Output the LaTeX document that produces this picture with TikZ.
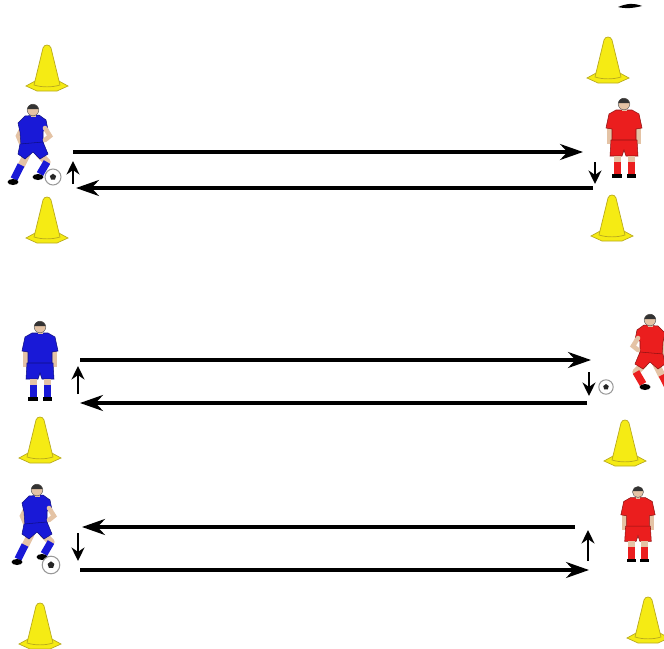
\documentclass[tikz,border=0pt]{standalone}
\usetikzlibrary{arrows.meta}

\definecolor{kitblue}{RGB}{25,25,215}
\definecolor{kitred}{RGB}{235,30,30}
\definecolor{skin}{RGB}{228,195,165}
\definecolor{coneyellow}{RGB}{245,235,20}
\definecolor{coneedge}{RGB}{185,170,30}

\begin{document}
\begin{tikzpicture}[
  x=0.02cm, y=-0.02cm,
  pass/.style={line width=1.8pt, -{Stealth[length=4.6mm, width=3.2mm]}},
  nudge/.style={line width=1.6pt, -{Stealth[length=2.7mm, width=2.6mm]}},
  pics/cone/.style={code={
    \filldraw[fill=coneyellow, draw=coneedge, line width=0.4pt]
      (-21,41) -- (-10,35) -- (10,35) -- (21,41) -- (10,46) -- (-10,46) -- cycle;
    \filldraw[fill=coneyellow, draw=coneedge, line width=0.4pt]
      (-13,40) -- (-4,3) .. controls (-3,-1) and (3,-1) .. (4,3) -- (13,40)
      .. controls (5,42.5) and (-5,42.5) .. (-13,40) -- cycle;
  }},
  pics/ball/.style={code={
    \filldraw[fill=white, draw=gray!80, line width=0.6pt] (0,0) circle (8);
    \fill[black!85] (0,-3.3) -- (3.1,-1) -- (1.9,2.7) -- (-1.9,2.7) -- (-3.1,-1) -- cycle;
  }},
  pics/stander/.style={code={
    % arms
    \fill[skin] (-17,22) rectangle (-12,40);
    \fill[skin] (12,22) rectangle (17,40);
    % shirt and shorts
    \filldraw[fill=#1, draw=#1!60!black, line width=0.3pt]
      (-8,6) -- (8,6) -- (15,10) -- (18,24) -- (12,25) -- (12,38)
      -- (-12,38) -- (-12,25) -- (-18,24) -- (-15,10) -- cycle;
    \filldraw[fill=#1, draw=#1!60!black, line width=0.3pt]
      (-13,36) -- (13,36) -- (14,52) -- (2,52) -- (0,46) -- (-2,52) -- (-14,52) -- cycle;
    % legs, socks, boots
    \foreach \s in {-1,1} {
      \fill[skin] (\s*3.5,52) rectangle (\s*10.5,58);
      \fill[#1] (\s*3.5,58) rectangle (\s*10.5,70);
      \fill[black] (\s*2.5,70) rectangle (\s*12,74);
    }
    % head
    \fill[skin] (-2.5,2) rectangle (2.5,7);
    \filldraw[fill=skin, draw=black!60, line width=0.3pt] (0,0) circle (5.8);
    \fill[black!80] (-5.8,-0.8) arc (188:352:5.8) -- cycle;
  }},
  pics/kicker/.style={code={
    % back arm and back leg
    \draw[skin, line width=2.6pt, line cap=round] (-10,16) -- (-15,26) -- (-12,33);
    \draw[skin, line width=4.2pt, line cap=round] (-6,44) -- (-12,56);
    \draw[#1, line width=4.2pt] (-12,55) -- (-19,69);
    \fill[black] (-20,72) ellipse (5.5 and 3);
    % front leg
    \draw[skin, line width=4.2pt, line cap=round] (6,44) -- (14,52);
    \draw[#1, line width=4.2pt] (14,52) -- (7,64);
    \fill[black] (5,67) ellipse (5.5 and 3);
    % shirt and shorts
    \filldraw[fill=#1, draw=#1!60!black, line width=0.3pt]
      (-8,6) -- (6,5) -- (13,10) -- (15,20) -- (10,21) -- (10,34)
      -- (-12,36) -- (-13,22) -- (-15,13) -- cycle;
    \filldraw[fill=#1, draw=#1!60!black, line width=0.3pt]
      (-13,34) -- (10,32) -- (15,44) -- (7,49) -- (0,42) -- (-8,49) -- (-15,44) -- cycle;
    % front arm
    \draw[skin, line width=2.6pt, line cap=round] (12,18) -- (17,26) -- (12,30);
    % head
    \fill[skin] (-2.5,2) rectangle (2.5,7);
    \filldraw[fill=skin, draw=black!60, line width=0.3pt] (0,0) circle (5.8);
    \fill[black!80] (-5.8,-0.8) arc (188:352:5.8) -- cycle;
  }},
]
\useasboundingbox (0,0) rectangle (664,649);

% cones, apex positions
\foreach \cx/\cy in {47/45, 608/37, 47/197, 612/195, 40/417, 625/420, 40/603, 648/597}
  \pic at (\cx,\cy) {cone};

% players
\pic at (33,110) {kicker=kitblue};
\pic at (624,104) {stander=kitred};
\pic at (40,327) {stander=kitblue};
\pic[xscale=-1] at (650,320) {kicker=kitred};
\pic at (37,490) {kicker=kitblue};
\pic[scale=0.95] at (638,492) {stander=kitred};

% balls
\pic at (53,177) {ball};
\pic[scale=0.9] at (606,387) {ball};
\pic[scale=1.1] at (51,565) {ball};

% passes
\draw[pass] (73,152) -- (583,152);
\draw[pass] (593,188) -- (76,188);
\draw[pass] (80,360) -- (591,360);
\draw[pass] (587,403) -- (80,403);
\draw[pass] (575,527) -- (82,527);
\draw[pass] (80,570) -- (589,570);

% steps after the pass
\draw[nudge] (73,184) -- (73,161);
\draw[nudge] (595,162) -- (595,184);
\draw[nudge] (78,394) -- (78,366);
\draw[nudge] (589,372) -- (589,396);
\draw[nudge] (78,533) -- (78,561);
\draw[nudge] (588,561) -- (588,530);

\fill[black] (618,7) .. controls (628,3) and (634,3) .. (642,6)
  .. controls (634,8) and (626,9) .. (618,7) -- cycle;
\end{tikzpicture}
\end{document}
